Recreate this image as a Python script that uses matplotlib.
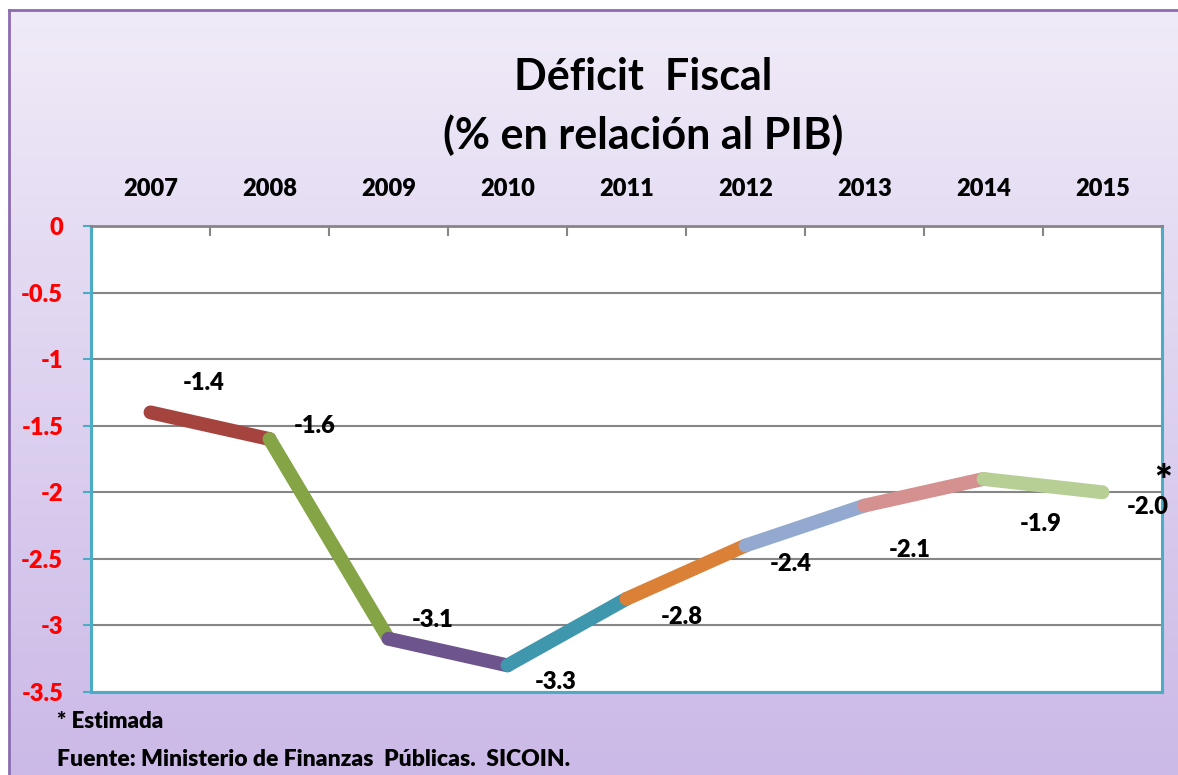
import numpy as np
import matplotlib.pyplot as plt

# data
years = ['2007', '2008', '2009', '2010', '2011', '2012', '2013', '2014', '2015']
deficit = [-1.4, -1.6, -3.1, -3.3, -2.8, -2.4, -2.1, -1.9, -2.0]
value_labels = ['-1.4', '-1.6', '-3.1', '-3.3', '-2.8', '-2.4', '-2.1', '-1.9', '-2.0']
y_ticks = [0, -0.5, -1, -1.5, -2, -2.5, -3, -3.5]
y_tick_labels = ['0', '-0.5', '-1', '-1.5', '-2', '-2.5', '-3', '-3.5']

# styling
seg_colors = ['#A5443F', '#84A446', '#6E548D', '#3F97AE',
              '#DA8137', '#93A9CF', '#D49190', '#B7CE94']
label_offsets = [(53, 29), (45, 13), (44, 19), (48, -17), (55, -18),
                 (45, -18), (45, -44), (57, -45), (45, -15)]
teal = '#4BACC6'
grey = '#868686'
font = 'Lato'
wt = 'heavy'

W, H = 1178, 775
fig = plt.figure(figsize=(W / 100, H / 100), dpi=100)
fig.patch.set_facecolor('white')

# gradient background with purple border
bg = fig.add_axes([9 / W, 0, 1 - 9 / W, 1 - 10 / H])
grad = np.linspace(0, 1, 256).reshape(-1, 1)
top = np.array([0xF0, 0xEB, 0xF8]) / 255
bot = np.array([0xCB, 0xB9, 0xE7]) / 255
img = top + grad[:, :, None] * (bot - top)
bg.imshow(img, aspect='auto', extent=[0, 1, 0, 1], origin='upper')
bg.set_xlim(0, 1)
bg.set_ylim(0, 1)
bg.set_xticks([])
bg.set_yticks([])
for side in ['right', 'bottom']:
    bg.spines[side].set_visible(False)
for side in ['left', 'top']:
    bg.spines[side].set_color('#8C6BB1')
    bg.spines[side].set_linewidth(2)

# plot area
ax = fig.add_axes([91 / W, 1 - 692 / H, 1071 / W, 466 / H])
ax.set_facecolor('white')
x = np.arange(len(years))
for i in range(len(x) - 1):
    ax.plot(x[i:i + 2], deficit[i:i + 2], color=seg_colors[i], lw=10,
            solid_capstyle='round', zorder=3)

for i, (xi, yi) in enumerate(zip(x, deficit)):
    ax.annotate(value_labels[i], (xi, yi), xytext=label_offsets[i],
                textcoords='offset pixels', ha='center', va='center',
                fontsize=17, fontweight=wt, family=font, zorder=4)
ax.annotate('*', (x[-1], deficit[-1]), xytext=(61, 9),
            textcoords='offset pixels', ha='center', va='center',
            fontsize=30, fontweight=wt, family=font, zorder=4,
            annotation_clip=False)

ax.set_xlim(-0.5, len(years) - 0.5)
ax.set_ylim(-3.5, 0)
ax.set_yticks(y_ticks)
ax.set_yticklabels(y_tick_labels, color='red', fontsize=17,
                   fontweight=wt, family=font)
ax.tick_params(axis='y', colors=teal, labelcolor='red', length=6,
               width=1.5, pad=14)
for t in ax.get_yticklabels():
    t.set_ha('right')

ax.xaxis.tick_top()
ax.set_xticks(x)
ax.set_xticklabels(years, fontsize=17, fontweight=wt, family=font)
ax.tick_params(axis='x', length=0, pad=19)
ax.set_xticks(np.arange(-0.5, len(years), 1), minor=True)
ax.tick_params(axis='x', which='minor', direction='in', length=7,
               width=1.5, color=grey, top=True, bottom=False)

ax.grid(axis='y', color=grey, lw=1.5, zorder=1)
ax.spines['top'].set_color(grey)
ax.spines['top'].set_linewidth(2)
for side in ['left', 'right', 'bottom']:
    ax.spines[side].set_color(teal)
    ax.spines[side].set_linewidth(2.2)

# titles and notes
fig.text(643 / W, 1 - 77 / H, 'Déficit  Fiscal', ha='center', va='center',
         fontsize=31, fontweight='bold', family=font)
fig.text(643 / W, 1 - 135 / H, '(% en relación al PIB)', ha='center',
         va='center', fontsize=31, fontweight='bold', family=font)
fig.text(57 / W, 1 - 722 / H, '* Estimada', ha='left', va='center',
         fontsize=16, fontweight=wt, family=font)
fig.text(57 / W, 1 - 760 / H, 'Fuente: Ministerio de Finanzas  Públicas.  SICOIN.',
         ha='left', va='center', fontsize=16.5, fontweight=wt, family=font)

fig.savefig('out.png', dpi=100)
